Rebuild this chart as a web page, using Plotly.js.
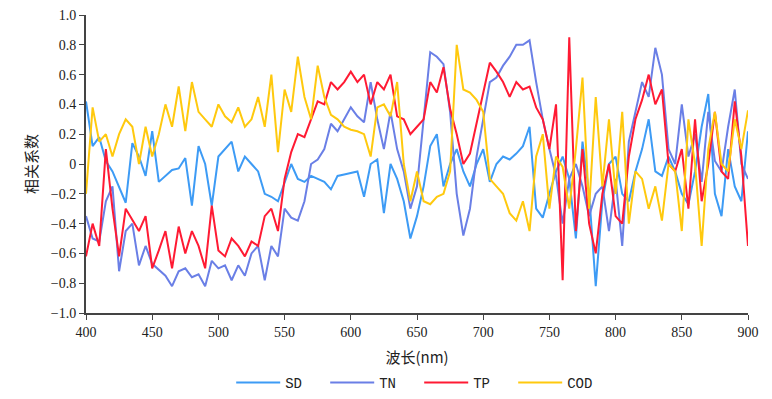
<!DOCTYPE html>
<html>
<head>
<meta charset="utf-8">
<script src="https://cdn.plot.ly/plotly-3.0.1.min.js"></script>
<style>html,body{margin:0;padding:0;background:#fff;}#chart{width:772px;height:399px;}</style>
</head>
<body>
<div id="chart"></div>
<script>
// wavelength grid (nm), 5 nm step from 400 to 900
const wavelengths = [];
for (let w = 400; w <= 900; w += 5) wavelengths.push(w);

const seriesNames = ["SD", "TN", "TP", "COD"];

const SD = [
 0.42, 0.12, 0.18, 0.02, -0.05, -0.15, -0.26, 0.14, 0.05, -0.08,
 0.22, -0.12, -0.08, -0.04, -0.03, 0.04, -0.28, 0.12, 0.0, -0.28,
 0.05, 0.1, 0.15, -0.05, 0.05, 0.0, -0.05, -0.2, -0.22, -0.25,
 -0.12, 0.0, -0.1, -0.12, -0.08, -0.1, -0.12, -0.17, -0.08, -0.07,
 -0.06, -0.05, -0.22, 0.0, 0.03, -0.33, 0.0, -0.1, -0.25, -0.5,
 -0.35, -0.15, 0.12, 0.2, -0.15, 0.0, 0.1, -0.05, -0.15, 0.0,
 0.1, -0.12, 0.0, 0.05, 0.03, 0.07, 0.12, 0.25, -0.3, -0.36,
 -0.2, -0.05, 0.05, -0.1, -0.5, 0.15, -0.2, -0.82, -0.25, 0.0,
 0.05, -0.2, -0.25, -0.05, 0.1, 0.3, -0.05, -0.08, 0.05, -0.05,
 -0.2, -0.27, -0.05, 0.25, 0.47, -0.2, -0.35, 0.1, -0.15, -0.25,
 0.22
];

const TN = [
 -0.35, -0.5, -0.52, -0.25, -0.15, -0.72, -0.45, -0.4, -0.68, -0.55,
 -0.67, -0.71, -0.75, -0.82, -0.72, -0.7, -0.76, -0.74, -0.82, -0.65,
 -0.7, -0.68, -0.78, -0.68, -0.75, -0.6, -0.55, -0.78, -0.55, -0.62,
 -0.3, -0.36, -0.38, -0.25, 0.0, 0.03, 0.1, 0.27, 0.22, 0.3,
 0.38, 0.32, 0.28, 0.55, 0.3, 0.1, 0.35, 0.1, -0.05, -0.3,
 -0.15, 0.3, 0.75, 0.72, 0.67, 0.35, -0.2, -0.48, -0.3, 0.05,
 0.3, 0.55, 0.58, 0.66, 0.72, 0.8, 0.8, 0.83, 0.55, 0.3,
 0.1, -0.08, -0.4, -0.1, 0.0, -0.15, -0.35, -0.2, -0.15, -0.45,
 -0.1, -0.55, 0.15, 0.35, 0.55, 0.45, 0.78, 0.6, 0.1, 0.0,
 0.4, 0.05, 0.2, -0.12, 0.35, 0.02, -0.05, 0.25, 0.5, 0.0,
 -0.1
];

const TP = [
 -0.62, -0.4, -0.55, 0.1, -0.3, -0.62, -0.3, -0.38, -0.45, -0.35,
 -0.7, -0.58, -0.45, -0.7, -0.42, -0.6, -0.45, -0.55, -0.7, -0.28,
 -0.58, -0.62, -0.5, -0.55, -0.62, -0.52, -0.55, -0.35, -0.3, -0.45,
 -0.1, 0.08, 0.2, 0.18, 0.3, 0.42, 0.4, 0.55, 0.5, 0.55,
 0.62, 0.55, 0.6, 0.4, 0.55, 0.5, 0.6, 0.32, 0.3, 0.2,
 0.25, 0.3, 0.55, 0.48, 0.65, 0.37, 0.2, 0.0, 0.07, 0.28,
 0.48, 0.68, 0.62, 0.55, 0.45, 0.55, 0.5, 0.52, 0.38, 0.3,
 0.1, 0.4, -0.78, 0.85, -0.45, 0.1, -0.4, -0.6, -0.2, 0.0,
 -0.35, -0.4, 0.05, 0.3, 0.43, 0.6, 0.4, 0.5, 0.0, -0.05,
 0.1, -0.3, 0.3, -0.25, 0.0, 0.35, -0.05, -0.1, 0.42, 0.05,
 -0.55
];

const COD = [
 -0.2, 0.38, 0.15, 0.2, 0.05, 0.2, 0.3, 0.25, 0.0, 0.25,
 0.05, 0.2, 0.4, 0.25, 0.52, 0.22, 0.55, 0.35, 0.3, 0.25,
 0.4, 0.32, 0.28, 0.38, 0.25, 0.3, 0.45, 0.25, 0.6, 0.08,
 0.5, 0.35, 0.72, 0.45, 0.3, 0.66, 0.45, 0.33, 0.3, 0.25,
 0.23, 0.22, 0.2, 0.05, 0.38, 0.4, 0.32, 0.55, 0.0, -0.25,
 -0.05, -0.25, -0.27, -0.22, -0.2, -0.05, 0.8, 0.5, 0.48, 0.43,
 0.35, -0.1, -0.15, -0.2, -0.33, -0.38, -0.25, -0.45, 0.05, 0.2,
 -0.3, 0.05, -0.02, -0.3, 0.1, 0.58, -0.3, 0.45, -0.15, 0.3,
 -0.2, 0.35, -0.4, -0.05, -0.1, -0.3, -0.15, -0.38, 0.0, -0.05,
 -0.45, 0.3, 0.0, -0.55, 0.1, 0.35, 0.0, -0.05, 0.3, 0.1,
 0.36
];

const yTickVals = [-1, -0.8, -0.6, -0.4, -0.2, 0, 0.2, 0.4, 0.6, 0.8, 1.0];
const yTickText = ["\u22121.0", "\u22120.8", "\u22120.6", "\u22120.4", "\u22120.2", "0", "0.2", "0.4", "0.6", "0.8", "1.0"];
const xTickVals = [400, 450, 500, 550, 600, 650, 700, 750, 800, 850, 900];

const colors = ["#3d9bf5", "#6a7fe6", "#ff1a33", "#ffc90e"];
const allSeries = [SD, TN, TP, COD];

const traces = allSeries.map((ys, i) => ({
  x: wavelengths,
  y: ys,
  type: "scatter",
  mode: "lines",
  name: seriesNames[i],
  line: { color: colors[i], width: 2 }
}));

const tickFont = { family: "Liberation Serif, serif", size: 14, color: "#222" };

const layout = {
  width: 772,
  height: 399,
  margin: { l: 86, r: 24, t: 15, b: 86 },
  paper_bgcolor: "#fff",
  plot_bgcolor: "#fff",
  font: { family: "Liberation Mono, monospace", size: 13, color: "#222" },
  xaxis: {
    range: [400, 900],
    tickvals: xTickVals,
    ticks: "outside",
    ticklen: 5,
    tickcolor: "#444",
    showline: true,
    linecolor: "#444",
    linewidth: 2,
    showgrid: false,
    zeroline: false,
    tickfont: tickFont,
    title: { text: "波长(nm)", font: { family: "Noto Sans CJK SC", size: 15, color: "#222" }, standoff: 14 }
  },
  yaxis: {
    range: [-1, 1],
    tickvals: yTickVals,
    ticktext: yTickText,
    ticks: "outside",
    ticklen: 5,
    tickcolor: "#444",
    showline: true,
    linecolor: "#444",
    linewidth: 2,
    showgrid: false,
    zeroline: false,
    tickfont: tickFont,
    title: { text: "相关系数", font: { family: "Noto Sans CJK SC", size: 15, color: "#222" }, standoff: 10 }
  },
  showlegend: true,
  legend: {
    orientation: "h",
    xref: "container",
    yref: "container",
    x: 0.543,
    xanchor: "center",
    y: 0.0,
    yanchor: "bottom",
    font: { family: "Liberation Mono, monospace", size: 14, color: "#222" },
    itemwidth: 44,
    entrywidth: 35,
    entrywidthmode: "pixels"
  }
};

Plotly.newPlot("chart", traces, layout, { displayModeBar: false, staticPlot: true });
</script>
</body>
</html>
